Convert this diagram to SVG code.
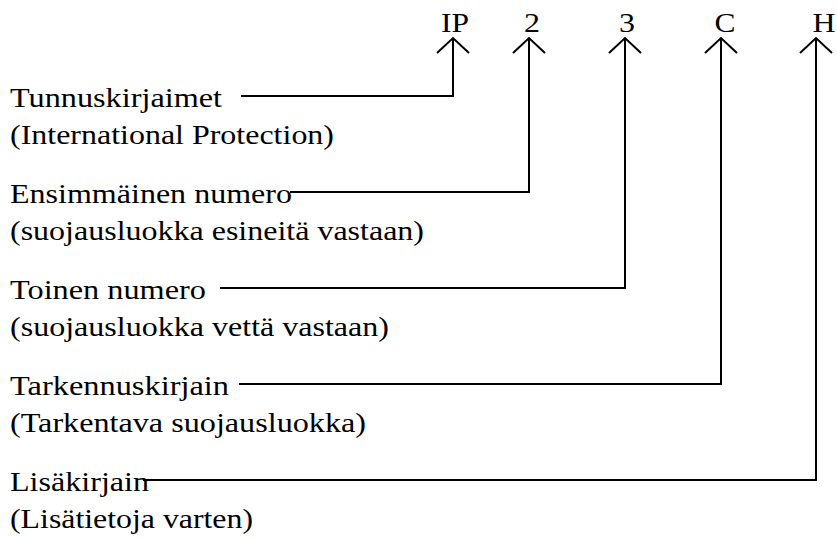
<svg xmlns="http://www.w3.org/2000/svg" width="837" height="539" viewBox="0 0 837 539">
  <style>
    .t { font-family: "Liberation Serif", "Times New Roman", serif; font-size: 28px; fill: #000; }
    .code { text-anchor: middle; }
    .conn { fill: none; stroke: #000; stroke-width: 2; }
  </style>
  <defs>
    <!-- open chevron arrowhead, tip pointing along the line direction -->
    <marker id="openArrow" viewBox="0 0 20 36" refX="17" refY="18" markerWidth="20" markerHeight="36" markerUnits="userSpaceOnUse" orient="auto">
      <path d="M 2 2 L 17 18 L 2 34" fill="none" stroke="#000" stroke-width="2"/>
    </marker>
  </defs>
  <rect width="837" height="539" fill="#fff"/>

  <!-- code letters along the top -->
  <g id="code-ip" class="t code"><text x="455" y="32" textLength="28" lengthAdjust="spacingAndGlyphs">IP</text></g>
  <g id="code-2" class="t code"><text x="532" y="32" textLength="16" lengthAdjust="spacingAndGlyphs">2</text></g>
  <g id="code-3" class="t code"><text x="627" y="32" textLength="16" lengthAdjust="spacingAndGlyphs">3</text></g>
  <g id="code-c" class="t code"><text x="725" y="32" textLength="21" lengthAdjust="spacingAndGlyphs">C</text></g>
  <g id="code-h" class="t code"><text x="824" y="32" textLength="23" lengthAdjust="spacingAndGlyphs">H</text></g>

  <!-- explanations on the left -->
  <g id="label-tunnus" class="t">
    <text x="10" y="107" textLength="212" lengthAdjust="spacingAndGlyphs">Tunnuskirjaimet</text>
    <text x="10" y="144" textLength="324" lengthAdjust="spacingAndGlyphs">(International Protection)</text>
  </g>
  <g id="label-ensimmainen" class="t">
    <text x="10" y="203" textLength="282" lengthAdjust="spacingAndGlyphs">Ensimmäinen numero</text>
    <text x="10" y="240" textLength="414" lengthAdjust="spacingAndGlyphs">(suojausluokka esineitä vastaan)</text>
  </g>
  <g id="label-toinen" class="t">
    <text x="10" y="299" textLength="196" lengthAdjust="spacingAndGlyphs">Toinen numero</text>
    <text x="10" y="336" textLength="379" lengthAdjust="spacingAndGlyphs">(suojausluokka vettä vastaan)</text>
  </g>
  <g id="label-tarkennus" class="t">
    <text x="10" y="395" textLength="219" lengthAdjust="spacingAndGlyphs">Tarkennuskirjain</text>
    <text x="10" y="432" textLength="356" lengthAdjust="spacingAndGlyphs">(Tarkentava suojausluokka)</text>
  </g>
  <g id="label-lisa" class="t">
    <text x="10" y="491" textLength="139" lengthAdjust="spacingAndGlyphs">Lisäkirjain</text>
    <text x="10" y="528" textLength="243" lengthAdjust="spacingAndGlyphs">(Lisätietoja varten)</text>
  </g>

  <!-- leader lines ending in open arrowheads under each letter -->
  <g id="connectors">
    <path class="conn" d="M 241 96 H 453 V 38" marker-end="url(#openArrow)"/>
    <path class="conn" d="M 290 192 H 529 V 38" marker-end="url(#openArrow)"/>
    <path class="conn" d="M 220 288 H 625 V 38" marker-end="url(#openArrow)"/>
    <path class="conn" d="M 239 384 H 721 V 38" marker-end="url(#openArrow)"/>
    <path class="conn" d="M 143 480 H 816 V 38" marker-end="url(#openArrow)"/>
  </g>
</svg>
